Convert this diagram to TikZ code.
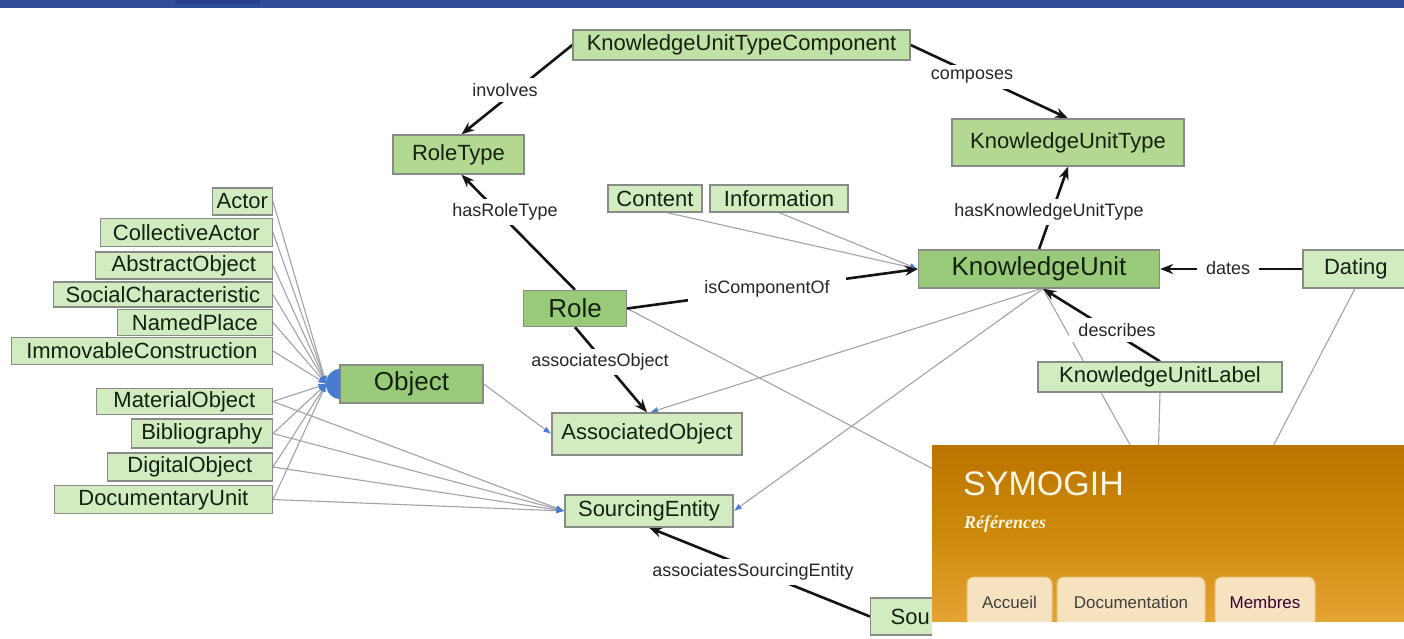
\documentclass[tikz,border=0pt]{standalone}
\usepackage{fontspec}
\setmainfont{Liberation Sans}
\newfontfamily\serifB{Liberation Serif}
\usetikzlibrary{arrows.meta}
\pgfdeclarelayer{bg}\pgfdeclarelayer{fg}\pgfsetlayers{bg,main,fg}
\definecolor{barblue}{RGB}{48,78,152}
\definecolor{bardark}{RGB}{38,64,138}
\definecolor{lightg}{RGB}{210,235,193}
\definecolor{midg}{RGB}{192,226,166}
\definecolor{midg2}{RGB}{178,216,146}
\definecolor{darkg}{RGB}{152,202,122}
\definecolor{boxgray}{RGB}{135,140,135}
\definecolor{txt}{RGB}{20,34,14}
\definecolor{thingray}{RGB}{160,163,170}
\definecolor{arrowblue}{RGB}{72,124,208}
\definecolor{ovtop}{RGB}{187,116,0}
\definecolor{ovmid}{RGB}{205,138,10}
\definecolor{ovbot}{RGB}{228,164,52}
\definecolor{tabfill}{RGB}{246,226,190}
\definecolor{tabdraw}{RGB}{232,196,130}
\definecolor{symo}{RGB}{255,246,228}
\begin{document}
\begin{tikzpicture}[x=1pt,y=-1pt,
  box/.style={draw=boxgray, line width=1.3pt, inner sep=0pt, text=txt, font=\fontsize{22}{24}\selectfont},
  lt/.style={box, fill=lightg},
  md/.style={box, fill=midg},
  md2/.style={box, fill=midg2},
  dk/.style={box, fill=darkg, font=\fontsize{26}{28}\selectfont},
  lbl/.style={fill=white, inner xsep=9pt, inner ysep=5pt, text=black!85, font=\fontsize{18}{20}\selectfont},
  bk/.style={draw=black!92, line width=2.6pt, -{Stealth[length=13pt,width=10pt]}},
  th/.style={draw=thingray, line width=1.1pt, -{Latex[length=8pt,width=6pt,color=arrowblue]}},
  thn/.style={draw=thingray, line width=1.1pt},
  tabbox/.style={fill=tabfill, draw=tabdraw, line width=1pt, rounded corners=7pt, text=black!75, font=\fontsize{17}{19}\selectfont}
]
\useasboundingbox (0,0) rectangle (1404,638);

% ---------- nodes ----------
\node[md]  (kutc) at (741.5,45) [minimum width=337, minimum height=30] {KnowledgeUnitTypeComponent};
\node[md2] (rt)   at (458.5,154.5) [minimum width=131, minimum height=39] {RoleType};
\node[md2] (kut)  at (1068,142.5) [minimum width=232, minimum height=47] {KnowledgeUnitType};
\node[lt]  (cont) at (655,198.5) [minimum width=94, minimum height=27] {Content};
\node[lt]  (info) at (779,198.5) [minimum width=138, minimum height=27] {Information};

\node[lt, anchor=east] (actor) at (273,201.5) [minimum width=60, minimum height=27] {Actor};
\node[lt, anchor=east] (coll)  at (273,232.5) [minimum width=172, minimum height=28] {CollectiveActor};
\node[lt, anchor=east] (abs)   at (273,265.5) [minimum width=177, minimum height=27] {AbstractObject};
\node[lt, anchor=east] (soc)   at (273,294.5) [minimum width=219, minimum height=25] {SocialCharacteristic};
\node[lt, anchor=east] (named) at (273,322.5) [minimum width=155, minimum height=26] {NamedPlace};
\node[lt, anchor=east] (immo)  at (273,351) [minimum width=261, minimum height=27] {ImmovableConstruction};
\node[lt, anchor=east] (mat)   at (273,401.5) [minimum width=176, minimum height=26] {MaterialObject};
\node[lt, anchor=east] (bib)   at (273,433.5) [minimum width=141, minimum height=29] {Bibliography};
\node[lt, anchor=east] (dig)   at (273,467) [minimum width=165, minimum height=28] {DigitalObject};
\node[lt, anchor=east] (doc)   at (273,499.5) [minimum width=218, minimum height=28] {DocumentaryUnit};

\node[dk] (obj)  at (411.5,384) [minimum width=143, minimum height=38] {Object};
\node[dk] (role) at (575,308.5) [minimum width=103, minimum height=36] {Role};
\node[dk] (ku)   at (1039,269) [minimum width=241, minimum height=38] {KnowledgeUnit};
\node[lt] (dat)  at (1361,269) [minimum width=116, minimum height=38, text width=108pt, align=left, inner xsep=0pt] {\hspace*{17pt}Dating};
\node[lt] (kul)  at (1160,377) [minimum width=244, minimum height=30] {KnowledgeUnitLabel};
\node[lt] (ao)   at (647,434) [minimum width=190, minimum height=42] {AssociatedObject};
\node[lt] (se)   at (649,511) [minimum width=168, minimum height=32] {SourcingEntity};
\node[lt, anchor=west, text width=120pt, align=left, inner xsep=20pt, minimum height=37] (sou) at (870,616.5) {Sou};

\coordinate (h1) at (1000,504);
\coordinate (h2) at (1162,502);
\coordinate (h3) at (1157,502);
\coordinate (h4) at (1244,502);

% ---------- edges (behind nodes) ----------
\begin{pgfonlayer}{bg}
\fill[white] (0,0) rectangle (1404,638);
\fill[barblue] (0,0) rectangle (1404,8);
\fill[bardark] (175,0) rectangle (260,4);

\foreach \n in {actor,coll,abs,soc,named,immo,mat,bib,dig,doc}
  \draw[th] (\n.east) -- ([xshift=-13pt]obj.west);
\foreach \n in {mat,bib,dig,doc}
  \draw[th] (\n.east) -- (se.west);
\draw[th] (obj.east) -- (ao.west);
\draw[th] ([xshift=12pt]cont.south) -- (ku.west);
\draw[th] (info.south) -- (ku.west);
\draw[th] ([xshift=2pt]ku.south) -- ([xshift=3pt]ao.north);
\draw[th] ([xshift=4pt]ku.south) -- (se.east);
\draw[thn] (role.east) -- (h1);
\draw[thn] ([xshift=4pt]ku.south) -- (h2);
\draw[thn] (kul.south) -- (h3);
\draw[thn] ([xshift=-6pt]dat.south) -- (h4);

\draw[bk] (kutc.west) -- ([xshift=3pt]rt.north);
\draw[bk] (kutc.east) -- (kut.north);
\draw[bk] (role.north) -- ([xshift=3pt]rt.south);
\draw[bk] (ku.north) -- (kut.south);
\draw[bk] (role.east) -- (ku.west);
\draw[bk] (dat.west) -- (ku.east);
\draw[bk] (kul.north) -- ([xshift=4pt]ku.south);
\draw[bk] (role.south) -- (ao.north);
\draw[bk] (sou.west) -- (se.south);
\end{pgfonlayer}

% blue convergence of the generalisation arrows
\fill[arrowblue] (340,369) arc[start angle=-90, end angle=-270, x radius=14, y radius=15] -- cycle;

% ---------- labels ----------
\node[lbl] (l1) at (505,90) {involves};
\node[lbl] (l2) at (972,77) {composes};
\node[lbl] (l3) at (505,212) {hasRoleType};
\node[lbl] (l4) at (1049,212) {hasKnowledgeUnitType};
\node[lbl, inner xsep=16pt] (l5) at (767,289) {isComponentOf};
\node[lbl] (l6) at (1228,268) {dates};
\node[lbl] (l7) at (1117,330) {describes};
\node[lbl] (l8) at (600,362) {associatesObject};
\node[lbl] (l9) at (753,572) {associatesSourcingEntity};

% ---------- overlay screenshot ----------
\begin{pgfonlayer}{fg}
\shade[top color=ovtop, bottom color=ovbot, middle color=ovmid] (932,445) rectangle (1404,622);
\node[tabbox, minimum width=85, minimum height=50] (tacc) at (1009.5,602) {Accueil};
\node[tabbox, minimum width=148, minimum height=50] (tdoc) at (1131,602) {Documentation};
\node[tabbox, minimum width=100, minimum height=50, text=violet!45!black] (tmem) at (1265,602) {Membres};
\fill[white] (932,622) rectangle (1404,638);
\node[anchor=base west, inner sep=0pt, text=symo, font=\fontsize{34}{36}\selectfont] (symt) at (963,495) {SYMOGIH};
\node[anchor=base west, inner sep=0pt, text=symo, font=\serifB\bfseries\itshape\fontsize{18}{20}\selectfont] (reft) at (964,528) {Références};
\end{pgfonlayer}
\end{tikzpicture}
\end{document}
